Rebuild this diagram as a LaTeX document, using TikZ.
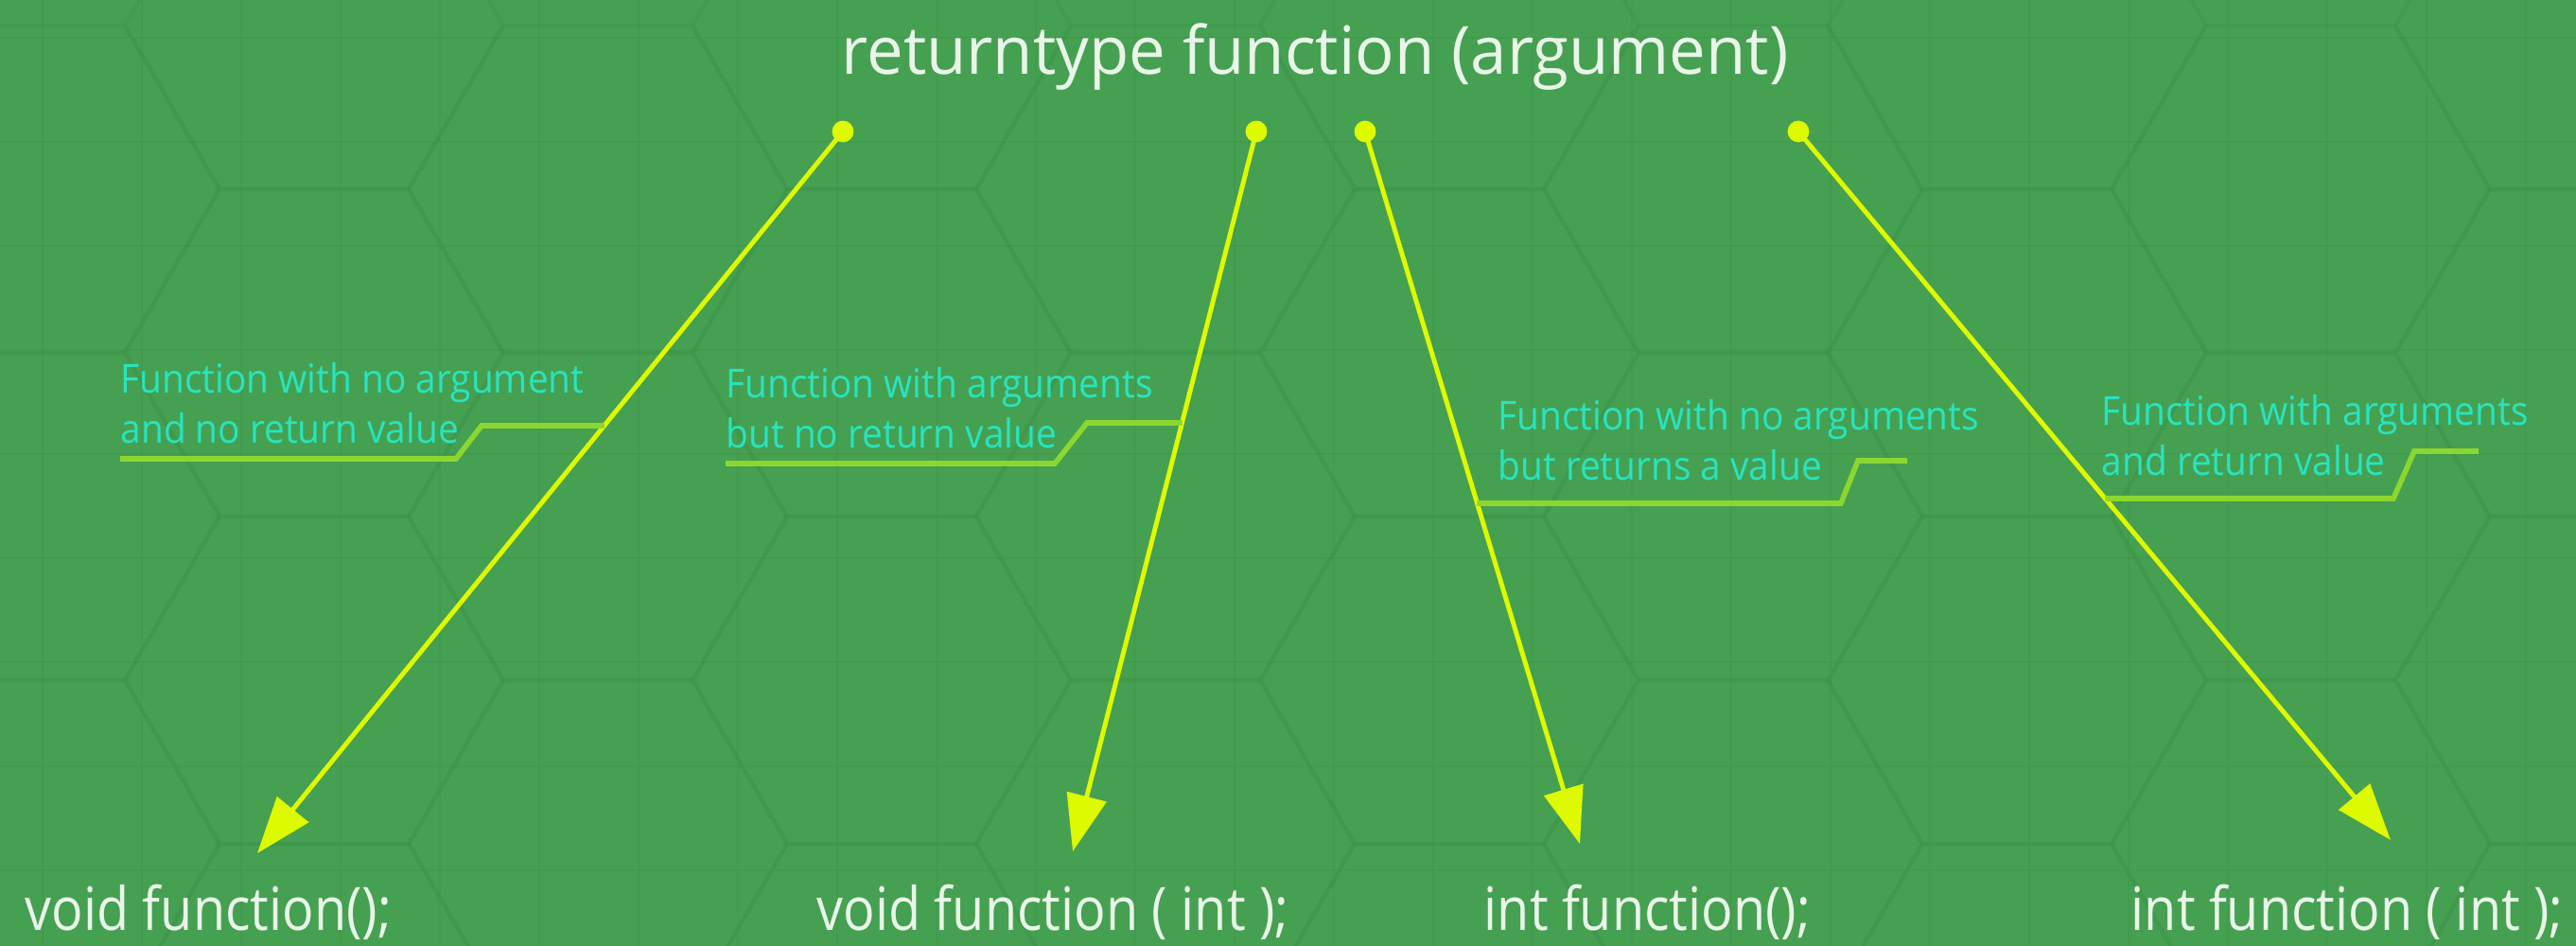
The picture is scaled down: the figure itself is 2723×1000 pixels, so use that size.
\documentclass[tikz,border=0pt]{standalone}
\usepackage{fontspec}
\setmainfont{Open Sans}
\usepackage{graphicx}
\usetikzlibrary{arrows.meta}

\definecolor{bggreen}{RGB}{70,160,82}
\definecolor{texgreen}{RGB}{60,148,72}
\definecolor{arrowyellow}{RGB}{222,250,0}
\definecolor{leadgreen}{RGB}{140,214,48}
\definecolor{annocyan}{RGB}{40,228,190}
\definecolor{codewhite}{RGB}{232,245,232}

\newcommand{\narrow}[2]{\scalebox{#1}[1]{#2}}

\begin{document}
\begin{tikzpicture}[x=0.01cm,y=-0.01cm,>={Triangle[length=17pt,width=12pt]}]

        \tikzset{
            texline/.style={texgreen,line width=0.8pt,opacity=0.35},
            ydot/.style={circle,fill=arrowyellow,inner sep=0pt,minimum size=6.5pt},
            pointer/.style={->,arrowyellow,line width=1.4pt},
            leader/.style={leadgreen,line width=1.6pt},
            anno/.style={annocyan,inner sep=0pt,anchor=south west,
                font=\fontsize{12}{15}\selectfont},
            code/.style={codewhite,inner sep=0pt,anchor=base west,
                font=\fontsize{18}{22}\selectfont},
            headline/.style={codewhite,inner sep=0pt,anchor=base west,
                font=\fontsize{20}{24}\selectfont}
        }

        % Background
        \fill[bggreen] (0,0) rectangle (2723,1000);
        \useasboundingbox (0,0) rectangle (2723,1000);
        \clip (0,0) rectangle (2723,1000);

        % Faint texture
        \foreach \gx in {45,150,...,2723} {
            \draw[texline] (\gx,0) -- (\gx,1000);
        }
        \foreach \gy in {40,150,...,1000} {
            \draw[texline] (0,\gy) -- (2723,\gy);
        }
        \foreach \i in {0,...,9} {
            \foreach \j in {0,...,3} {
                \pgfmathsetmacro\cx{300*\i+32}
                \pgfmathsetmacro\cy{346*\j+200-173*mod(\i,2)}
                \draw[texline,line width=1.2pt]
                    (\cx+200,\cy) -- (\cx+100,\cy+173) -- (\cx-100,\cy+173)
                    -- (\cx-200,\cy) -- (\cx-100,\cy-173) -- (\cx+100,\cy-173) -- cycle;
            }
        }

        % Title
        \node[headline] (head) at (889,78)
            {\narrow{0.98}{returntype function (argument)}};

        % Start dots under the title
        \node[ydot] (d1) at (891,139) {};
        \node[ydot] (d2) at (1328,139) {};
        \node[ydot] (d3) at (1443,139) {};
        \node[ydot] (d4) at (1901,139) {};

        % Declarations
        \node[code] (c1) at (26,983) {\narrow{0.88}{void function();}};
        \node[code] (c2) at (863,983) {\narrow{0.88}{void function ( int );}};
        \node[code] (c3) at (1568,983) {\narrow{0.88}{int function();}};
        \node[code] (c4) at (2252,983) {\narrow{0.88}{int function ( int );}};

        % Arrow tips above the declarations
        \coordinate (t1) at (272,902);
        \coordinate (t2) at (1134,900);
        \coordinate (t3) at (1670,892);
        \coordinate (t4) at (2527,888);

        \draw[pointer] (d1.center) -- (t1);
        \draw[pointer] (d2.center) -- (t2);
        \draw[pointer] (d3.center) -- (t3);
        \draw[pointer] (d4.center) -- (t4);

        % Annotations
        \node[anno] (a1) at (127,485) {\narrow{0.92}{\begin{tabular}{@{}l@{}}
            Function with no argument\\and no return value\end{tabular}}};
        \node[anno] (a2) at (767,490) {\narrow{0.92}{\begin{tabular}{@{}l@{}}
            Function with arguments\\but no return value\end{tabular}}};
        \node[anno] (a3) at (1583,524) {\narrow{0.92}{\begin{tabular}{@{}l@{}}
            Function with no arguments\\but returns a value\end{tabular}}};
        \node[anno] (a4) at (2221,519) {\narrow{0.92}{\begin{tabular}{@{}l@{}}
            Function with arguments\\and return value\end{tabular}}};

        % Leaders to the arrows
        \draw[leader] (a1.south west) -- (482,485) -- (509,450)
            -- (intersection of d1.center--t1 and 0,450--100,450);
        \draw[leader] (a2.south west) -- (1115,490) -- (1149,447)
            -- (intersection of d2.center--t2 and 0,447--100,447);
        \draw[leader] (intersection of d3.center--t3 and 0,532--100,532)
            -- (1946,532) -- (1964,487) -- (2016,487);
        \draw[leader] (intersection of d4.center--t4 and 0,527--100,527)
            -- (2530,527) -- (2552,477) -- (2620,477);

    \end{tikzpicture}
\end{document}
